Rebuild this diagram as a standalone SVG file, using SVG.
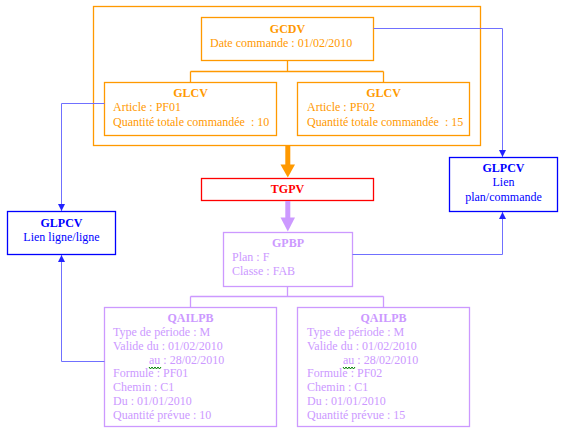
<svg xmlns="http://www.w3.org/2000/svg" width="561" height="435" viewBox="0 0 561 435">
<style>
text{font-family:"Liberation Serif","Times New Roman",serif;font-size:12px}
.t{font-weight:bold;text-anchor:middle}
.o{fill:#FF9900}.p{fill:#CC99FF}.b{fill:#0000FF}.r{fill:#FF0000}
.bo{fill:#fff;stroke:#FF9900;stroke-width:1.3}
.bp{fill:#fff;stroke:#CC99FF;stroke-width:1.3}
.bb{fill:#fff;stroke:#0000FF;stroke-width:1.3}
.br{fill:#fff;stroke:#FF0000;stroke-width:1.3}
.lb{fill:none;stroke:#7070FF;stroke-width:1}
.sq{fill:none;stroke:#008000;stroke-width:1}
</style>
<defs>
<marker id="ab" markerWidth="8" markerHeight="7" refX="7" refY="3.5" orient="auto" markerUnits="userSpaceOnUse">
<path d="M0,0 L7,3.5 L0,7 Z" fill="#2222FF"/>
</marker>
</defs>
<g id="GCDV-group">
<rect class="bo" x="93.5" y="6.5" width="387" height="139"/>
</g>
<g id="GCDV">
<rect class="bo" x="201.5" y="17.5" width="172" height="43"/>
<text class="t o" x="287.5" y="33">GCDV</text>
<text class="o" x="210" y="47">Date commande : 01/02/2010</text>
</g>
<g id="GLCV1">
<rect class="bo" x="104.5" y="82.5" width="172" height="53"/>
<text class="t o" x="190.5" y="97">GLCV</text>
<text class="o" x="113" y="111">Article : PF01</text>
<text class="o" x="113" y="126">Quantité totale commandée&#160; : 10</text>
</g>
<g id="GLCV2">
<rect class="bo" x="297.5" y="82.5" width="172" height="53"/>
<text class="t o" x="383.5" y="97">GLCV</text>
<text class="o" x="307" y="111">Article : PF02</text>
<text class="o" x="307" y="126">Quantité totale commandée&#160; : 15</text>
</g>
<g id="TGPV">
<rect class="br" x="201.5" y="178.5" width="172" height="22"/>
<text class="t r" x="287.5" y="193">TGPV</text>
</g>
<g id="GPBP">
<rect class="bp" x="223.5" y="232.5" width="129" height="54"/>
<text class="t p" x="288" y="247">GPBP</text>
<text class="p" x="232" y="261">Plan : F</text>
<text class="p" x="232" y="275">Classe : FAB</text>
</g>
<g id="QAILPB1">
<rect class="bp" x="104.5" y="307.5" width="172" height="119"/>
<text class="t p" x="190.5" y="322">QAILPB</text>
<text class="p" x="113" y="336">Type de période : M</text>
<text class="p" x="113" y="350">Valide du : 01/02/2010</text>
<text class="p" x="149" y="364">au : 28/02/2010</text>
<polyline class="sq" points="149,367 150.5,369 152,367 153.5,369 155,367 156.5,369 158,367 159.5,369 161,367"/>
<text class="p" x="113" y="377">Formule : PF01</text>
<text class="p" x="113" y="391">Chemin : C1</text>
<text class="p" x="113" y="405">Du : 01/01/2010</text>
<text class="p" x="113" y="419">Quantité prévue : 10</text>
</g>
<g id="QAILPB2">
<rect class="bp" x="297.5" y="307.5" width="172" height="119"/>
<text class="t p" x="383.5" y="322">QAILPB</text>
<text class="p" x="307" y="336">Type de période : M</text>
<text class="p" x="307" y="350">Valide du : 01/02/2010</text>
<text class="p" x="343" y="364">au : 28/02/2010</text>
<polyline class="sq" points="343,367 344.5,369 346,367 347.5,369 349,367 350.5,369 352,367 353.5,369 355,367"/>
<text class="p" x="307" y="377">Formule : PF02</text>
<text class="p" x="307" y="391">Chemin : C1</text>
<text class="p" x="307" y="405">Du : 01/01/2010</text>
<text class="p" x="307" y="419">Quantité prévue : 15</text>
</g>
<g id="GLPCV-ligne">
<rect class="bb" x="7.5" y="211.5" width="108" height="43"/>
<text class="t b" x="61.5" y="227">GLPCV</text>
<text class="b" x="61.5" y="241" text-anchor="middle">Lien ligne/ligne</text>
</g>
<g id="GLPCV-plan">
<rect class="bb" x="449.5" y="157.5" width="108" height="54"/>
<text class="t b" x="503.5" y="172">GLPCV</text>
<text class="b" x="503.5" y="186" text-anchor="middle">Lien</text>
<text class="b" x="503.5" y="201" text-anchor="middle">plan/commande</text>
</g>
<g id="connectors">
<path d="M287.5,60.5 V71.5 M190.5,71.5 H383.5 M190.5,71.5 V82.5 M383.5,71.5 V82.5" fill="none" stroke="#FF9900" stroke-width="1.3"/>
<path d="M287.5,286.5 V296.5 M190.5,296.5 H383.5 M190.5,296.5 V307.5 M383.5,296.5 V307.5" fill="none" stroke="#CC99FF" stroke-width="1.3"/>
<rect x="285.3" y="146" width="5" height="19" fill="#FF9900"/>
<polygon points="280.5,164.5 295,164.5 287.8,177.5" fill="#FF9900"/>
<rect x="285.3" y="201" width="5" height="17.5" fill="#CC99FF"/>
<polygon points="280.5,217.5 295,217.5 287.8,231.5" fill="#CC99FF"/>
<path class="lb" d="M373.5,28.5 H502.5 V157" marker-end="url(#ab)"/>
<path class="lb" d="M352.5,254.5 H502.5 V212" marker-end="url(#ab)"/>
<path class="lb" d="M104.5,103.5 H61.5 V211" marker-end="url(#ab)"/>
<path class="lb" d="M104.5,361.5 H61.5 V255" marker-end="url(#ab)"/>
</g>
</svg>
